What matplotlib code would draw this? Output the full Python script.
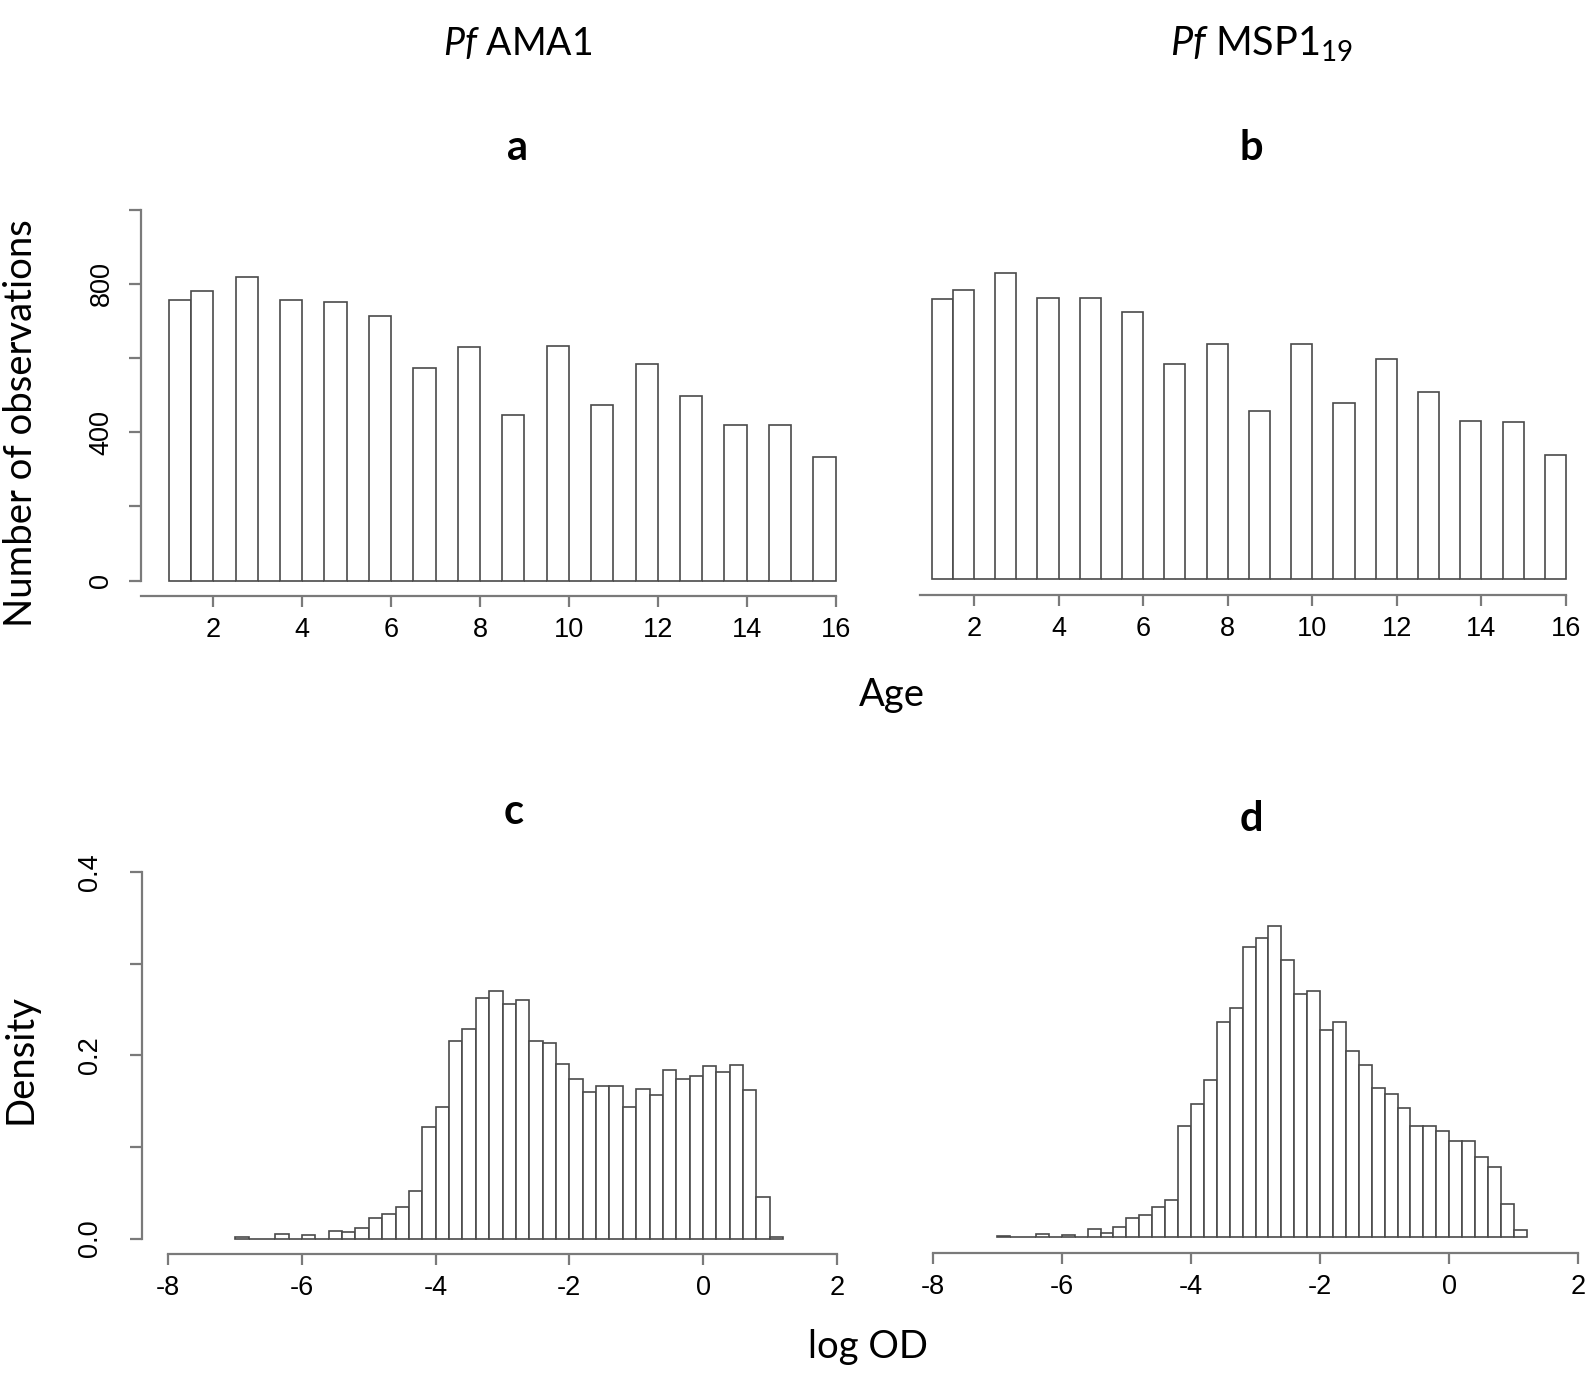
import numpy as np
import matplotlib
matplotlib.use("Agg")
import matplotlib.pyplot as plt

# ---------------- data ----------------
ages = [1, 2, 3, 4, 5, 6, 7, 8, 9, 10, 11, 12, 13, 14, 15, 16]
ama1_counts = [755, 780, 818, 755, 752, 712, 572, 629, 447, 632, 474, 584, 496, 418, 418, 332]
msp1_counts = [755, 779, 826, 757, 757, 719, 580, 633, 452, 633, 474, 593, 505, 425, 424, 335]

logod_bin_start = -7.0
logod_bin_width = 0.2
ama1_density = [0.002, 0, 0, 0.005, 0, 0.004, 0, 0.008, 0.007, 0.012,
                0.022, 0.027, 0.034, 0.052, 0.122, 0.144, 0.2155, 0.2285, 0.263, 0.2697,
                0.2556, 0.26, 0.2155, 0.213, 0.1906, 0.174, 0.16, 0.166, 0.166, 0.1437,
                0.1635, 0.157, 0.184, 0.174, 0.177, 0.188, 0.182, 0.189, 0.1625, 0.045,
                0.002]
msp1_density = [0.002, 0, 0, 0.0043, 0, 0.0025, 0, 0.009, 0.0054, 0.0116,
                0.0209, 0.0245, 0.0336, 0.0408, 0.122, 0.1455, 0.172, 0.2354, 0.251, 0.3166,
                0.3274, 0.3404, 0.3032, 0.266, 0.269, 0.2264, 0.2354, 0.204, 0.1884, 0.1635,
                0.157, 0.1408, 0.122, 0.122, 0.1166, 0.1054, 0.1058, 0.0874, 0.0765, 0.0361,
                0.0083]

age_ticks = [2, 4, 6, 8, 10, 12, 14, 16]
count_ticks = [0, 200, 400, 600, 800, 1000]
count_labels = ["0", "", "400", "", "800", ""]
od_ticks = [-8, -6, -4, -2, 0, 2]
dens_ticks = [0.0, 0.1, 0.2, 0.3, 0.4]
dens_labels = ["0.0", "", "0.2", "", "0.4"]

# ---------------- style ----------------
plt.rcParams['axes.unicode_minus'] = False
plt.rcParams['mathtext.fontset'] = 'custom'
plt.rcParams['mathtext.rm'] = 'Lato'
plt.rcParams['mathtext.it'] = 'Lato:italic'
plt.rcParams['mathtext.bf'] = 'Lato:bold'

W, H = 1589, 1384
fig = plt.figure(figsize=(W / 100, H / 100), dpi=100)
fig.patch.set_facecolor('white')

AXC = '#7a7a7a'
BARC = '#4a4a4a'
TICKFONT = 'Liberation Sans'
LABFONT = 'Lato'


def place(ax, xlim, ylim, xa, pxa, xb, pxb, ya, pya, yb, pyb):
    sx = (pxb - pxa) / (xb - xa)
    sy = (pyb - pya) / (yb - ya)
    left = pxa + (xlim[0] - xa) * sx
    right = pxa + (xlim[1] - xa) * sx
    bottom = pya + (ylim[0] - ya) * sy
    top = pya + (ylim[1] - ya) * sy
    ax.set_position([left / W, 1 - bottom / H, (right - left) / W, (bottom - top) / H])
    ax.set_xlim(xlim)
    ax.set_ylim(ylim)


def style_axes(ax, show_left, left_x, ybounds, xbounds, yticks, ylabels, xticks, ypad):
    for s in ['top', 'right']:
        ax.spines[s].set_visible(False)
    ax.spines['bottom'].set_bounds(*xbounds)
    ax.spines['bottom'].set_color(AXC)
    ax.spines['bottom'].set_linewidth(1.6)
    ax.set_xticks(xticks)
    ax.set_xticklabels([str(t) for t in xticks], fontfamily=TICKFONT, fontsize=19.5)
    ax.tick_params(axis='x', direction='out', length=8, width=1.6, color=AXC, pad=7)
    if show_left:
        ax.spines['left'].set_position(('data', left_x))
        ax.spines['left'].set_bounds(*ybounds)
        ax.spines['left'].set_color(AXC)
        ax.spines['left'].set_linewidth(1.6)
        ax.set_yticks(yticks)
        ax.set_yticklabels(ylabels, fontfamily=TICKFONT, fontsize=19.5, rotation=90, va='center')
        ax.tick_params(axis='y', direction='out', length=9, width=1.6, color=AXC, pad=ypad)
    else:
        ax.spines['left'].set_visible(False)
        ax.set_yticks([])
    ax.patch.set_visible(False)


def age_bins(counts):
    edges = np.arange(1.0, 16.0001, 0.5)
    heights = np.zeros(len(edges) - 1)
    for a, c in zip(ages, counts):
        idx = 0 if a == 1 else int(round((a - 1) / 0.5)) - 1
        heights[idx] = c
    return edges[:-1], heights


def draw_age(ax, counts):
    lefts, heights = age_bins(counts)
    ax.bar(lefts, heights, width=0.5, align='edge', facecolor='white',
           edgecolor=BARC, linewidth=1.2)


def draw_od(ax, dens):
    lefts = logod_bin_start + logod_bin_width * np.arange(len(dens))
    ax.bar(lefts, dens, width=logod_bin_width, align='edge', facecolor='white',
           edgecolor=BARC, linewidth=1.2)


# Panel a
ax_a = fig.add_axes([0, 0, 1, 1])
place(ax_a, (0.3, 16.6), (-41, 1060), 2, 213.3, 16, 835.6, 0, 580.5, 1000, 209.5)
draw_age(ax_a, ama1_counts)
style_axes(ax_a, True, 0.37, (0, 1000), (0.37, 16), count_ticks, count_labels, age_ticks, 10)

# Panel b
ax_b = fig.add_axes([0, 0, 1, 1])
place(ax_b, (0.6, 16.6), (-43, 1060), 2, 974, 16, 1566, 0, 579, 1000, 208)
draw_age(ax_b, msp1_counts)
style_axes(ax_b, False, 0, None, (0.72, 16), [], [], age_ticks, 0)

# Panel c
ax_c = fig.add_axes([0, 0, 1, 1])
place(ax_c, (-8.45, 2.3), (-0.0169, 0.42), -8, 168.3, 2, 836.7, 0, 1238.5, 0.4, 872)
draw_od(ax_c, ama1_density)
style_axes(ax_c, True, -8.4, (0, 0.4), (-8, 2), dens_ticks, dens_labels, od_ticks, 19)

# Panel d
ax_d = fig.add_axes([0, 0, 1, 1])
place(ax_d, (-8.2, 2.3), (-0.0173, 0.42), -8, 932.7, 2, 1578.3, 0, 1237.5, 0.4, 871)
draw_od(ax_d, msp1_density)
style_axes(ax_d, False, 0, None, (-8, 2), [], [], od_ticks, 0)


def ftext(px, py, s, **kw):
    fig.text(px / W, 1 - py / H, s, **kw)


ftext(518, 44, r'$\mathit{Pf}$ AMA1', fontfamily=LABFONT, fontsize=27, ha='center', va='center')
ftext(1262, 44, r'$\mathit{Pf}$ MSP1$_{19}$', fontfamily=LABFONT, fontsize=28.5, ha='center', va='center')
ftext(517, 160, 'a', fontfamily=LABFONT, fontweight='bold', fontsize=30, ha='center', va='baseline')
ftext(1251, 160, 'b', fontfamily=LABFONT, fontweight='bold', fontsize=30, ha='center', va='baseline')
ftext(514, 824, 'c', fontfamily=LABFONT, fontweight='bold', fontsize=30, ha='center', va='baseline')
ftext(1251, 831, 'd', fontfamily=LABFONT, fontweight='bold', fontsize=30, ha='center', va='baseline')
ftext(892, 695, 'Age', fontfamily=LABFONT, fontsize=27.5, ha='center', va='center')
ftext(868, 1347, 'log OD', fontfamily=LABFONT, fontsize=27.5, ha='center', va='center')
ftext(21, 423, 'Number of observations', fontfamily=LABFONT, fontsize=27.5, ha='center', va='center', rotation=90)
ftext(21, 1059, 'Density', fontfamily=LABFONT, fontsize=27.5, ha='center', va='center', rotation=90)

fig.savefig('out.png', dpi=100)
